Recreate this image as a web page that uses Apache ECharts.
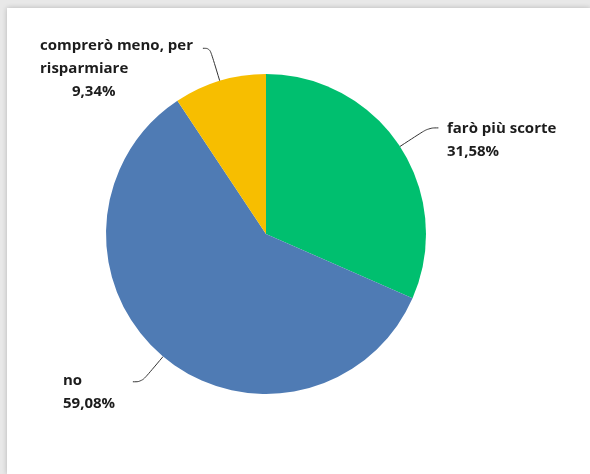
<!DOCTYPE html>
<html>
<head>
<meta charset="utf-8">
<script src="https://cdn.jsdelivr.net/npm/echarts@6/dist/echarts.min.js"></script>
<style>
  html, body { margin: 0; padding: 0; width: 590px; height: 474px; overflow: hidden; background: #e8e8e8; }
  #card { position: absolute; left: 7px; top: 8px; right: 0; bottom: 0; background: #ffffff;
          box-shadow: 0 0 5px rgba(0,0,0,0.22); }
  #chart { position: absolute; left: 0; top: 0; width: 590px; height: 474px; }
</style>
</head>
<body>
<div id="card"></div>
<div id="chart"></div>
<script>
// Risposte (percentuali)
const categories = ['farò più scorte', 'no', 'comprerò meno, per\nrisparmiare'];
const values = [31.58, 59.08, 9.34];
const colors = ['#00bf6f', '#4f7bb4', '#f7be00'];

// Posizione delle etichette e lunghezza delle linee guida
const labelPos = [
  { x: 447, y: 117, length: 34, length2: 10, pctPad: 0 },
  { x: 63, y: 369, length: 33, length2: 9, pctPad: 0 },
  { x: 40, y: 34, length: 34, length2: 7, pctPad: 32 }
];

const fmtPct = v => v.toFixed(2).replace('.', ',') + '%';

const textStyle = { fontFamily: 'Open Sans', fontWeight: 'bold', fontSize: 15, color: '#1c1c1c', lineHeight: 23 };

const data = categories.map((name, i) => ({
  name: name,
  value: values[i],
  itemStyle: { color: colors[i] },
  labelLine: { length: labelPos[i].length, length2: labelPos[i].length2 },
  label: {
    rich: {
      t: Object.assign({}, textStyle),
      p: Object.assign({}, textStyle, { padding: [0, 0, 0, labelPos[i].pctPad] })
    }
  }
}));

const chart = echarts.init(document.getElementById('chart'), null, { renderer: 'canvas' });
chart.setOption({
  animation: false,
  backgroundColor: 'transparent',
  series: [{
    type: 'pie',
    center: [266, 234],
    radius: 160,
    startAngle: 90,
    clockwise: true,
    data: data,
    label: {
      show: true,
      position: 'outside',
      formatter: p => p.name.split('\n').map(s => '{t|' + s + '}').join('\n') + '\n{p|' + fmtPct(p.value) + '}'
    },
    labelLine: {
      show: true,
      smooth: 0.4,
      lineStyle: { color: '#333333', width: 1 }
    },
    labelLayout: params => {
      const lp = labelPos[params.dataIndex];
      return {
        x: lp.x,
        y: lp.y,
        align: 'left',
        verticalAlign: 'top',
        labelLinePoints: params.labelLinePoints
      };
    },
    emphasis: { disabled: true }
  }]
});
</script>
</body>
</html>
